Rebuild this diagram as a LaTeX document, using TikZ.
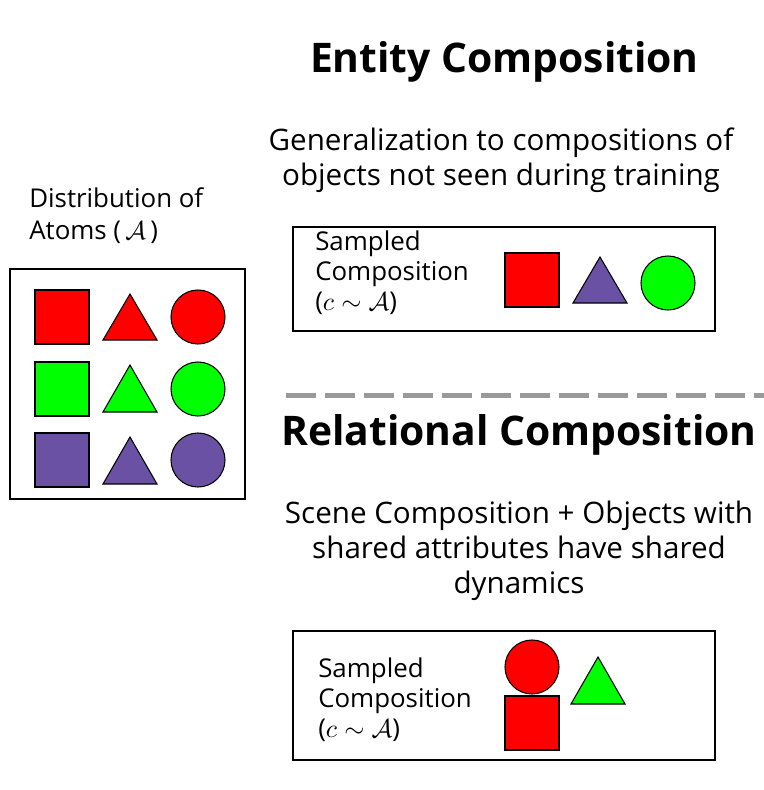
\documentclass[tikz,border=0pt]{standalone}
\usepackage{fontspec}
\setmainfont{Open Sans}
\DeclareFontShape{OML}{cmm}{m}{it}{<->cmmi10}{}
\DeclareFontShape{OMS}{cmsy}{m}{n}{<->cmsy10}{}
\definecolor{cred}{HTML}{FF0000}
\definecolor{cgreen}{HTML}{00FF00}
\definecolor{cpurple}{HTML}{6A51A3}
\definecolor{dashgray}{HTML}{999999}
\newcommand{\mytri}[4]{\draw[shp,fill=#1] (#2-27,#4) -- (#2,#3) -- (#2+27,#4) -- cycle;}
\newcommand{\mysq}[3]{\draw[shp,fill=#1] (#2-27,#3-27) rectangle (#2+27,#3+27);}
\newcommand{\mycirc}[3]{\draw[shp,fill=#1] (#2,#3) circle (27);}
\begin{document}
\begin{tikzpicture}[x=0.75pt,y=-0.75pt,
  shp/.style={draw=black,line width=0.8pt},
  frame/.style={draw=black,line width=1pt},
  title/.style={inner sep=0pt,anchor=base,font={\fontsize{30.6}{36}\selectfont\bfseries}},
  sub/.style={inner sep=0pt,anchor=base,align=center,font={\fontsize{22.2}{26.25}\selectfont}},
  lbl/.style={inner sep=0pt,anchor=base west,align=left,font={\fontsize{19.4}{22.5}\selectfont}},
]
\useasboundingbox (0,0) rectangle (764,790);
% atoms
\node[inner sep=0pt,anchor=base west,align=left,font={\fontsize{19.4}{24}\selectfont}] (atomslbl) at (29,239) {Distribution of\\Atoms (\,$\mathcal{A}$\,)};
\draw[frame] (10,269) rectangle (245,499);
\mysq{cred}{62}{317}
\mytri{cred}{130}{294}{340}
\mycirc{cred}{198}{317}
\mysq{cgreen}{62}{389}
\mytri{cgreen}{130}{365}{412}
\mycirc{cgreen}{198}{389}
\mysq{cpurple}{62}{460}
\mytri{cpurple}{130}{437}{484}
\mycirc{cpurple}{198}{460}
% entity
\node[title] (t1) at (504.5,72) {Entity Composition};
\node[sub] (s1) at (501,185) {Generalization to compositions of\\objects not seen during training};
\draw[frame] (293,227) rectangle (715,331);
\node[lbl] (l1) at (315,310) {Sampled\\Composition\\($c\sim\mathcal{A}$)};
\mysq{cred}{532}{280}
\mytri{cpurple}{600}{257}{303}
\mycirc{cgreen}{668}{283}
% divider
\draw[dashgray,line width=3.75pt,dash pattern=on 22.5pt off 6.75pt] (286,395) -- (764,395);
% relational
\node[title] (t2) at (519,445) {Relational Composition};
\node[sub] (s2) at (519,593) {Scene Composition + Objects with\\shared attributes have shared\\dynamics};
\draw[frame] (293,631) rectangle (715,760);
\node[lbl] (l2) at (318,737) {Sampled\\Composition\\($c\sim\mathcal{A}$)};
\mycirc{cred}{532}{667}
\mysq{cred}{532}{723}
\mytri{cgreen}{598}{657}{704}
\end{tikzpicture}
\end{document}
